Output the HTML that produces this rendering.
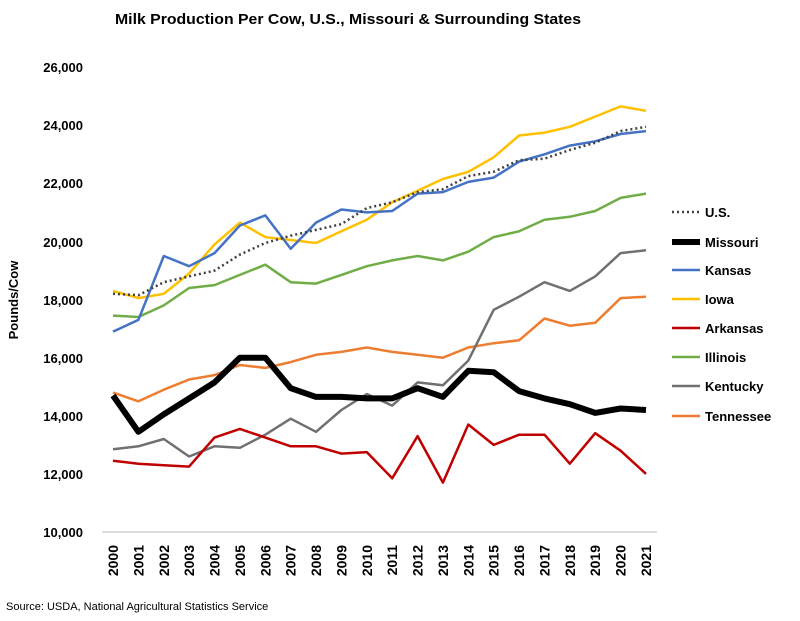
<!DOCTYPE html>
<html><head><meta charset="utf-8"><style>
body{margin:0;background:#fff}
svg text{font-family:"Liberation Sans Narrow","Liberation Sans",sans-serif;fill:#000}
</style></head><body>
<svg width="800" height="616" viewBox="0 0 800 616" xmlns="http://www.w3.org/2000/svg">
<rect width="800" height="616" fill="#fff"/>
<text x="348" y="24" font-size="15" font-weight="bold" text-anchor="middle" textLength="466" lengthAdjust="spacingAndGlyphs">Milk Production Per Cow, U.S., Missouri &amp; Surrounding States</text>
<text transform="translate(18,300) rotate(-90)" font-size="13" font-weight="bold" text-anchor="middle">Pounds/Cow</text>
<g font-size="13" font-weight="bold" text-anchor="end">
<text x="83" y="537">10,000</text><text x="83" y="479">12,000</text><text x="83" y="421">14,000</text><text x="83" y="363">16,000</text><text x="83" y="305">18,000</text><text x="83" y="247">20,000</text><text x="83" y="188">22,000</text><text x="83" y="130">24,000</text><text x="83" y="72">26,000</text>
</g>
<line x1="102" y1="532" x2="657" y2="532" stroke="#bbb" stroke-width="1"/>
<g id="years" font-size="14" font-weight="bold" text-anchor="end"></g>
<g id="lines" fill="none" stroke-linejoin="round"></g>
<g font-size="13" font-weight="bold">
<line x1="672" y1="212" x2="700" y2="212" stroke="#404040" stroke-width="2.5" stroke-dasharray="2,3"/><text x="705" y="217">U.S.</text>
<line x1="672" y1="242" x2="700" y2="242" stroke="#000" stroke-width="6"/><text x="705" y="247">Missouri</text>
<line x1="672" y1="270" x2="700" y2="270" stroke="#4472C4" stroke-width="2.5"/><text x="705" y="275">Kansas</text>
<line x1="672" y1="299" x2="700" y2="299" stroke="#FFC000" stroke-width="2.5"/><text x="705" y="304">Iowa</text>
<line x1="672" y1="328" x2="700" y2="328" stroke="#C00000" stroke-width="2.5"/><text x="705" y="333">Arkansas</text>
<line x1="672" y1="357" x2="700" y2="357" stroke="#70AD47" stroke-width="2.5"/><text x="705" y="362">Illinois</text>
<line x1="672" y1="386" x2="700" y2="386" stroke="#707070" stroke-width="2.5"/><text x="705" y="391">Kentucky</text>
<line x1="672" y1="416" x2="700" y2="416" stroke="#ED7D31" stroke-width="2.5"/><text x="705" y="421">Tennessee</text>
</g>
<text x="6" y="610" font-size="11">Source: USDA, National Agricultural Statistics Service</text>
<script>
var X=function(i){return 113+i*25.38},Y=function(v){return 532-(v-10000)/2000*58.1};
var yg=document.getElementById('years');
for(var i=0;i<22;i++){var t=document.createElementNS('http://www.w3.org/2000/svg','text');t.setAttribute('transform','translate('+(X(i)+5)+',545) rotate(-90)');t.textContent=2000+i;yg.appendChild(t);}
var S=[
["#ED7D31",2.5,"",[14800,14500,14900,15250,15400,15750,15650,15850,16100,16200,16350,16200,16100,16000,16350,16500,16600,17350,17100,17200,18050,18100]],
["#707070",2.5,"",[12850,12950,13200,12600,12950,12900,13350,13900,13450,14200,14750,14350,15150,15050,15900,17650,18100,18600,18300,18800,19600,19700]],
["#70AD47",2.5,"",[17450,17400,17800,18400,18500,18850,19200,18600,18550,18850,19150,19350,19500,19350,19650,20150,20350,20750,20850,21050,21500,21650]],
["#C00000",2.5,"",[12450,12350,12300,12250,13250,13550,13250,12950,12950,12700,12750,11850,13300,11700,13700,13000,13350,13350,12350,13400,12800,12000]],
["#FFC000",2.5,"",[18300,18050,18200,18900,19900,20650,20150,20050,19950,20350,20750,21350,21750,22150,22400,22900,23650,23750,23950,24300,24650,24500]],
["#4472C4",2.5,"",[16900,17300,19500,19150,19600,20550,20900,19750,20650,21100,21000,21050,21650,21700,22050,22200,22750,23000,23300,23450,23700,23800]],
["#000",6,"",[14700,13450,14050,14600,15150,16000,16000,14950,14650,14650,14600,14600,14950,14650,15550,15500,14850,14600,14400,14100,14250,14200]],
["#404040",2.5,"2,3",[18200,18150,18600,18800,19000,19550,19950,20200,20400,20600,21150,21350,21700,21800,22250,22400,22800,22850,23150,23400,23800,23950]]];
var lg=document.getElementById('lines');
S.forEach(function(s){var p=document.createElementNS('http://www.w3.org/2000/svg','polyline');p.setAttribute('points',s[3].map(function(v,i){return X(i).toFixed(1)+','+Y(v).toFixed(1)}).join(' '));p.setAttribute('stroke',s[0]);p.setAttribute('stroke-width',s[1]);if(s[2])p.setAttribute('stroke-dasharray',s[2]);lg.appendChild(p);});
</script>
</svg>
</body></html>
